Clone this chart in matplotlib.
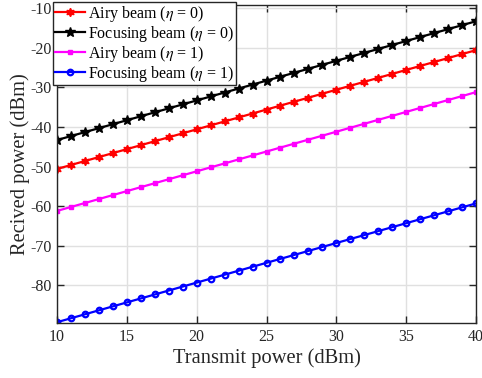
import matplotlib
matplotlib.use("Agg")
import matplotlib.pyplot as plt

plt.rcParams['font.family'] = ['Liberation Serif', 'DejaVu Serif']
plt.rcParams['mathtext.fontset'] = 'stix'
plt.rcParams['axes.unicode_minus'] = False

x = [10, 11, 12, 13, 14, 15, 16, 17, 18, 19, 20, 21, 22, 23, 24, 25,
     26, 27, 28, 29, 30, 31, 32, 33, 34, 35, 36, 37, 38, 39, 40]

airy_eta0 = [-50.6, -49.6, -48.6, -47.6, -46.6, -45.6, -44.6, -43.6, -42.6, -41.6,
             -40.6, -39.6, -38.6, -37.6, -36.6, -35.6, -34.6, -33.6, -32.6, -31.6,
             -30.6, -29.6, -28.6, -27.6, -26.6, -25.6, -24.6, -23.6, -22.6, -21.6, -20.6]
focus_eta0 = [-43.3, -42.3, -41.3, -40.3, -39.3, -38.3, -37.3, -36.3, -35.3, -34.3,
              -33.3, -32.3, -31.3, -30.3, -29.3, -28.3, -27.3, -26.3, -25.3, -24.3,
              -23.3, -22.3, -21.3, -20.3, -19.3, -18.3, -17.3, -16.3, -15.3, -14.3, -13.3]
airy_eta1 = [-61.2, -60.2, -59.2, -58.2, -57.2, -56.2, -55.2, -54.2, -53.2, -52.2,
             -51.2, -50.2, -49.2, -48.2, -47.2, -46.2, -45.2, -44.2, -43.2, -42.2,
             -41.2, -40.2, -39.2, -38.2, -37.2, -36.2, -35.2, -34.2, -33.2, -32.2, -31.2]
focus_eta1 = [-89.3, -88.3, -87.3, -86.3, -85.3, -84.3, -83.3, -82.3, -81.3, -80.3,
              -79.3, -78.3, -77.3, -76.3, -75.3, -74.3, -73.3, -72.3, -71.3, -70.3,
              -69.3, -68.3, -67.3, -66.3, -65.3, -64.3, -63.3, -62.3, -61.3, -60.3, -59.3]

labels = [r'Airy beam ($\eta$ = 0)', r'Focusing beam ($\eta$ = 0)',
          r'Airy beam ($\eta$ = 1)', r'Focusing beam ($\eta$ = 1)']
xticks = [10, 15, 20, 25, 30, 35, 40]
yticks = [-80, -70, -60, -50, -40, -30, -20, -10]

fig = plt.figure(figsize=(4.82, 3.78), dpi=100)
ax = fig.add_axes([57/482, 1 - 323/378, (476-57)/482, (323-5)/378])

ax.plot(x, airy_eta0, color='red', lw=1.6, marker=(6, 1, 0), ms=6, label=labels[0])
ax.plot(x, focus_eta0, color='black', lw=1.6, marker='*', ms=7, label=labels[1])
ax.plot(x, airy_eta1, color='magenta', lw=1.6, marker='s', ms=3.5, label=labels[2])
ax.plot(x, focus_eta1, color='blue', lw=1.6, marker='o', ms=4, mfc='none', mew=1.6, label=labels[3])

ax.set_xlim(10, 40)
ax.set_ylim(-89.5, -9.2)
ax.set_xticks(xticks)
ax.set_yticks(yticks)
ax.grid(True, color='#e0e0e0', lw=1.0)
ax.set_axisbelow(True)
ax.tick_params(direction='in', top=True, right=True, length=5, width=1,
               labelsize=11.5, colors='#262626', pad=4)
for s in ax.spines.values():
    s.set_color('#262626')
    s.set_linewidth(1.0)

ax.set_xlabel('Transmit power (dBm)', fontsize=14.8, color='#262626', labelpad=3)
ax.set_ylabel('Recived power (dBm)', fontsize=14.8, color='#262626', labelpad=0)

leg = ax.legend(loc='upper left', bbox_to_anchor=(53/482, 1 - 2/378),
                bbox_transform=fig.transFigure, borderaxespad=0,
                fontsize=11.5, frameon=True, fancybox=False, framealpha=1,
                edgecolor='#262626', handlelength=1.9, handletextpad=0.2,
                borderpad=0.1, labelspacing=0.0)
leg.get_frame().set_linewidth(1.0)

fig.savefig('out.png', dpi=100)
